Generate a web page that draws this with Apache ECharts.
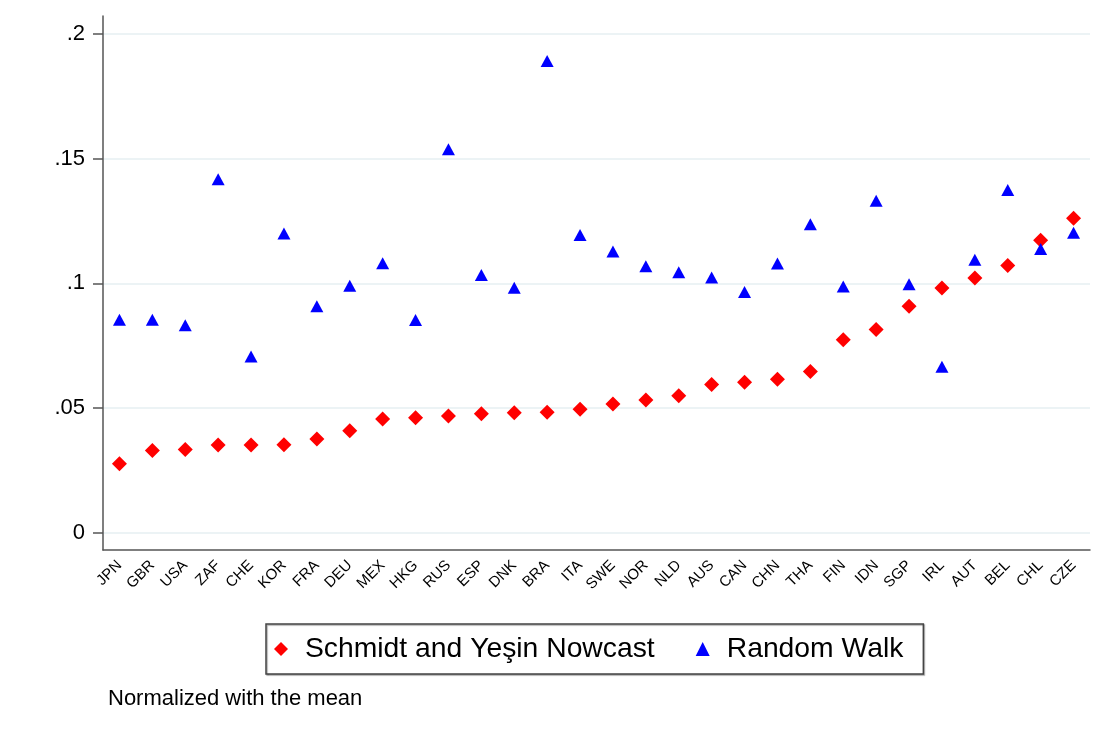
<!DOCTYPE html>
<html>
<head>
<meta charset="utf-8">
<title>Nowcast vs Random Walk</title>
<script src="https://cdn.jsdelivr.net/npm/echarts@6.0.0/dist/echarts.min.js"></script>
<style>
  html, body { margin: 0; padding: 0; background: #fff; }
  #chart { width: 1103px; height: 737px; }
</style>
</head>
<body>
<div id="chart"></div>
<script>
// country codes, sorted by nowcast error
const countries = ['JPN', 'GBR', 'USA', 'ZAF', 'CHE', 'KOR', 'FRA', 'DEU', 'MEX', 'HKG',
  'RUS', 'ESP', 'DNK', 'BRA', 'ITA', 'SWE', 'NOR', 'NLD', 'AUS', 'CAN',
  'CHN', 'THA', 'FIN', 'IDN', 'SGP', 'IRL', 'AUT', 'BEL', 'CHL', 'CZE']

const nowcast = [0.0277, 0.0330, 0.0334, 0.0352, 0.0352, 0.0353, 0.0376, 0.0409, 0.0456, 0.0461,
  0.0468, 0.0477, 0.0481, 0.0483, 0.0495, 0.0516, 0.0532, 0.0549, 0.0595, 0.0604,
  0.0616, 0.0647, 0.0774, 0.0815, 0.0908, 0.0981, 0.1022, 0.1072, 0.1173, 0.1261]

const randomWalk = [0.0854, 0.0854, 0.0832, 0.1417, 0.0707, 0.1200, 0.0908, 0.0990, 0.1081, 0.0853,
  0.1538, 0.1034, 0.0982, 0.1892, 0.1194, 0.1128, 0.1069, 0.1045, 0.1024, 0.0965,
  0.1080, 0.1237, 0.0987, 0.1331, 0.0996, 0.0666, 0.1095, 0.1374, 0.1138, 0.1203]

const yTicks = [0, 0.05, 0.1, 0.15, 0.2]

const chart = echarts.init(document.getElementById('chart'))

// stata style: ".05" instead of "0.05"
const fmtTick = (v) => (v === 0 ? '0' : String(+v.toFixed(2)).replace(/^0/, ''))

const option = {
  animation: false,
  backgroundColor: '#fff',
  textStyle: { fontFamily: 'Liberation Sans, Arial, sans-serif' },
  title: {
    text: 'Normalized with the mean',
    left: 108,
    top: 688,
    padding: 0,
    textStyle: { fontSize: 22, fontWeight: 'normal', color: '#000' },
  },
  grid: { left: 103, right: 13, top: 16, bottom: 187 },
  xAxis: {
    type: 'category',
    data: countries,
    boundaryGap: true,
    axisLine: { onZero: false, lineStyle: { color: '#555', width: 1.5 } },
    axisTick: { alignWithLabel: true, length: 10, lineStyle: { color: '#555', width: 1.5 } },
    axisLabel: { rotate: 45, margin: 13, fontSize: 15, color: '#000', interval: 0 },
    splitLine: { show: false },
  },
  yAxis: {
    type: 'value',
    min: -0.0069,
    max: 0.2072,
    axisLine: { show: true, lineStyle: { color: '#555', width: 1.5 } },
    axisTick: { show: true, length: 10, customValues: yTicks, lineStyle: { color: '#555', width: 1.5 } },
    axisLabel: { customValues: yTicks, margin: 18, fontSize: 22, color: '#000', formatter: fmtTick },
    splitLine: { show: true, lineStyle: { color: '#e6eff2', width: 1.5 } },
  },
  legend: {
    left: 266,
    top: 624,
    padding: [11, 20, 11, 8],
    itemGap: 41,
    itemWidth: 14,
    itemHeight: 14,
    borderColor: '#444',
    borderWidth: 1.5,
    shadowColor: 'rgba(0,0,0,0.35)',
    shadowOffsetX: 1,
    shadowOffsetY: 1,
    shadowBlur: 1,
    backgroundColor: '#fff',
    textStyle: { fontSize: 28.3, color: '#000', padding: [0, 0, 0, 12] },
    data: ['Schmidt and Yeşin Nowcast', 'Random Walk'],
  },
  series: [
    {
      name: 'Schmidt and Yeşin Nowcast',
      type: 'scatter',
      symbol: 'diamond',
      symbolSize: 15,
      itemStyle: { color: '#ff0000', opacity: 1 },
      data: nowcast,
    },
    {
      name: 'Random Walk',
      type: 'scatter',
      symbol: 'triangle',
      symbolSize: [13, 12],
      itemStyle: { color: '#0000ff', opacity: 1 },
      data: randomWalk,
    },
  ],
}

chart.setOption(option)
</script>
</body>
</html>
